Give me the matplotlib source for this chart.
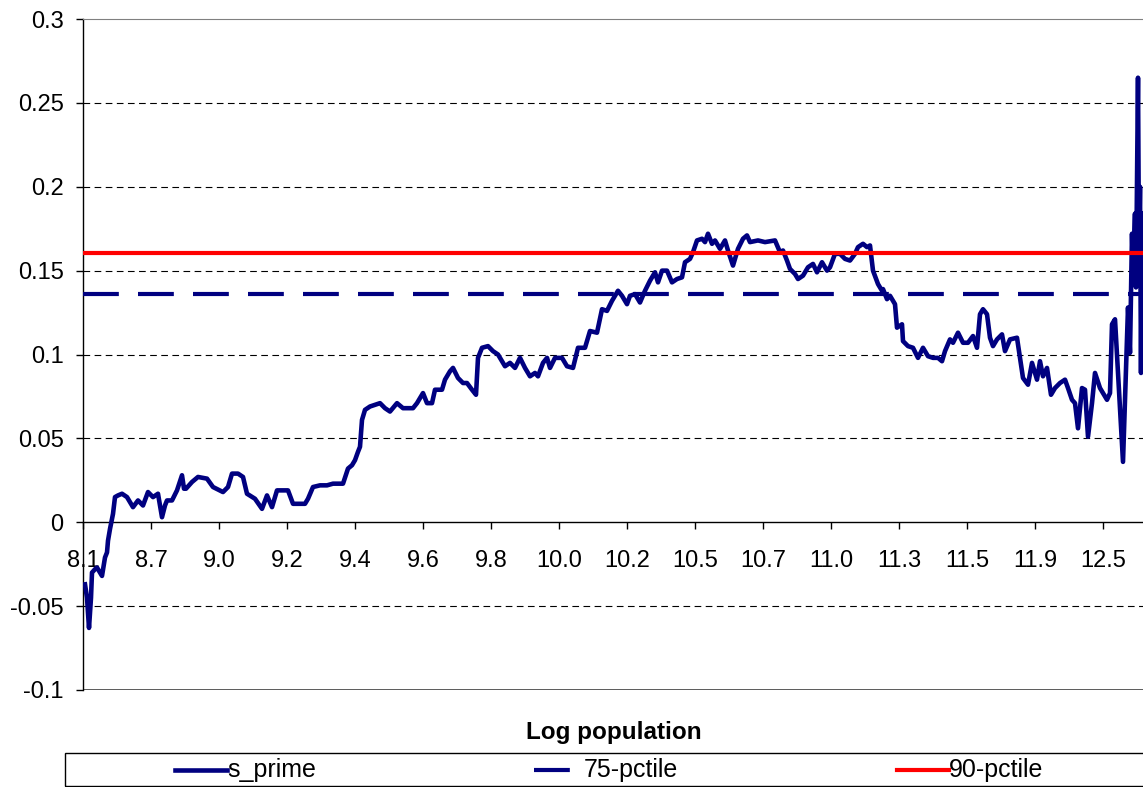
import matplotlib
matplotlib.use('Agg')
import matplotlib.pyplot as plt
from matplotlib.lines import Line2D
from matplotlib.patches import Rectangle

plt.rcParams['font.family'] = ['Liberation Sans', 'DejaVu Sans']

# category labels shown every 68 observations
tick_labels = ['8.1', '8.7', '9.0', '9.2', '9.4', '9.6', '9.8', '10.0', '10.2',
               '10.5', '10.7', '11.0', '11.3', '11.5', '11.9', '12.5']
tick_step = 68
n_obs = 1060

# observation number / s_prime value (sampled from the curve)
obs = [2, 4, 6, 8, 9, 12, 14, 17, 19, 22, 24, 25, 27, 29, 30, 32, 35, 39, 44, 50,
       55, 60, 65, 70, 75, 79, 82, 84, 89, 94, 99, 101, 103, 109, 115, 124, 130, 140,
       145, 149, 155, 160, 164, 172, 179, 184, 189, 194, 200, 205, 210, 220,
       222, 225, 230, 237, 244, 250, 260, 265, 269, 272, 275, 277, 279, 282, 287,
       297, 302, 307, 314, 320, 330, 334, 340, 344, 349, 352, 359, 362, 367, 370,
       375, 380, 384, 389, 393, 395, 399, 405, 410, 415, 422, 427, 432, 437,
       442, 447, 452, 455, 460, 464, 467, 472, 479, 484, 490, 495, 502, 507, 514,
       519, 524, 529, 535, 539, 544, 547, 552, 557, 562, 567, 572, 575, 579, 584,
       589, 594, 599, 602, 607, 610, 614, 619, 622, 625, 629, 632, 637, 642, 645,
       650, 655, 660,
       664, 667, 675, 682, 692, 697, 700, 704, 707, 712, 715, 720, 725, 730, 734,
       739, 744, 747, 752, 757, 762, 767, 772, 775, 780, 784, 787, 790, 795, 799,
       800, 804, 807, 812, 814, 819, 820, 825, 830, 835, 840, 845, 850, 855, 859,
       862, 867, 870, 875, 880, 885, 890, 894, 897, 900, 904, 907, 910, 914, 919,
       922, 927, 934, 937, 940, 945, 949, 954, 957, 960, 964, 968, 972, 977, 982,
       985, 989, 992, 995, 999, 1002, 1005, 1009, 1012, 1017, 1020, 1024, 1027,
       1029, 1032, 1035, 1040, 1042, 1045, 1047, 1049, 1050, 1052, 1053, 1055,
       1056, 1057, 1058, 1059]
s_prime = [-0.037, -0.045, -0.063, -0.045, -0.030, -0.028, -0.027, -0.030, -0.032,
           -0.021, -0.018, -0.011, -0.004, 0.002, 0.005, 0.015, 0.016, 0.017, 0.015,
           0.009, 0.013, 0.010, 0.018, 0.015, 0.017, 0.003, 0.010, 0.013, 0.013,
           0.019, 0.028, 0.020, 0.020, 0.024, 0.027, 0.026, 0.021, 0.018, 0.021,
           0.029, 0.029, 0.027, 0.017, 0.014, 0.008, 0.016, 0.009, 0.019, 0.019,
           0.019, 0.011, 0.011,
           0.011, 0.014, 0.021, 0.022, 0.022, 0.023, 0.023, 0.032, 0.034, 0.037,
           0.042, 0.045, 0.061, 0.067, 0.069, 0.071, 0.068, 0.066, 0.071, 0.068,
           0.068, 0.071, 0.077, 0.071, 0.071, 0.079, 0.079, 0.085, 0.090, 0.092,
           0.086, 0.083, 0.083, 0.079, 0.076, 0.098, 0.104, 0.105, 0.102, 0.100,
           0.093, 0.095, 0.092, 0.098, 0.092, 0.087, 0.089, 0.087, 0.095, 0.098,
           0.092, 0.098, 0.098, 0.093, 0.092, 0.104, 0.104, 0.114, 0.113, 0.127,
           0.126, 0.132, 0.138, 0.135, 0.130, 0.135, 0.136, 0.131, 0.138, 0.144,
           0.149, 0.143, 0.150, 0.150, 0.143, 0.145, 0.146, 0.155, 0.157, 0.161,
           0.168, 0.169, 0.167, 0.172, 0.166, 0.168, 0.163, 0.168, 0.162, 0.153,
           0.163, 0.169,
           0.171, 0.167, 0.168, 0.167, 0.168, 0.161, 0.162, 0.156, 0.151, 0.148,
           0.145, 0.147, 0.152, 0.154, 0.149, 0.155, 0.150, 0.152, 0.160, 0.160,
           0.157, 0.156, 0.160, 0.164, 0.166, 0.164, 0.165, 0.150, 0.142, 0.138,
           0.139, 0.133, 0.135, 0.130, 0.116, 0.118, 0.108, 0.105, 0.104, 0.098,
           0.104, 0.099, 0.098, 0.098, 0.096, 0.102, 0.109, 0.107, 0.113, 0.107,
           0.107, 0.111, 0.104, 0.124, 0.127, 0.124, 0.110, 0.105, 0.109, 0.112,
           0.102, 0.109, 0.110, 0.098, 0.086, 0.082, 0.095, 0.085, 0.096, 0.087,
           0.092, 0.076, 0.080, 0.083, 0.085, 0.080, 0.073, 0.071, 0.056, 0.080,
           0.079, 0.051, 0.071, 0.089, 0.080, 0.077, 0.073, 0.077, 0.118, 0.121,
           0.089, 0.036, 0.073, 0.128, 0.101, 0.172, 0.150, 0.184, 0.140, 0.265,
           0.160, 0.200, 0.089, 0.184]

pctile_75 = 0.136
pctile_90 = 0.1605

y_ticks = [-0.1, -0.05, 0, 0.05, 0.1, 0.15, 0.2, 0.25, 0.3]
y_labels = ['-0.1', '-0.05', '0', '0.05', '0.1', '0.15', '0.2', '0.25', '0.3']

navy = '#000080'
fs = 17

fig = plt.figure(figsize=(11.43, 7.87), dpi=100)
ax = fig.add_axes([83 / 1143, 97 / 787, 1060 / 1143, 671 / 787])

ax.plot(obs, s_prime, color=navy, lw=3.3, solid_joinstyle='round', zorder=3)
ax.axhline(pctile_75, color=navy, lw=3, dashes=(8.6, 4.6), zorder=4)
ax.axhline(pctile_90, color='#ff0000', lw=3, zorder=5)

ax.set_xlim(0, n_obs)
ax.set_ylim(-0.1, 0.3)

# axis crosses at y=0 (set before tick labels, it resets the ticks)
ax.spines['bottom'].set_position(('data', 0))
ax.spines['bottom'].set_linewidth(1)
ax.spines['left'].set_linewidth(1)
ax.spines['right'].set_visible(False)
ax.spines['top'].set_color('#808080')

ax.set_xticks(range(0, len(tick_labels) * tick_step, tick_step))
ax.set_xticklabels(tick_labels)
ax.set_yticks(y_ticks)
ax.set_yticklabels(y_labels)
ax.tick_params(axis='x', direction='out', length=5, width=1, pad=15, labelsize=fs)
ax.tick_params(axis='y', direction='out', length=5, width=1, pad=9, labelsize=fs)

# dashed gridlines
for v in y_ticks[1:-1]:
    if v != 0:
        ax.axhline(v, color='black', lw=0.8, dashes=(6, 4), zorder=1)
ax.axhline(-0.1, color='#404040', lw=1.2, zorder=1)

fig.text(614 / 1143, 1 - 732 / 787, 'Log population', ha='center', va='center',
         fontsize=17.5, fontweight='bold')

# legend box along the bottom
fig.add_artist(Rectangle((65 / 1143, 1 / 787), 1100 / 1143, 33 / 787,
                         transform=fig.transFigure, fill=False, ec='black', lw=1))
ly = 1 - 770 / 787
lfs = 18
fig.add_artist(Line2D([175 / 1143, 227 / 1143], [ly, ly], transform=fig.transFigure,
                      color=navy, lw=3.3))
fig.text(227 / 1143, ly, 's_prime', ha='left', va='center', fontsize=lfs)
fig.add_artist(Line2D([534 / 1143, 580 / 1143], [ly, ly], transform=fig.transFigure,
                      color=navy, lw=3, dashes=(8.6, 4.6)))
fig.text(584 / 1143, ly, '75-pctile', ha='left', va='center', fontsize=lfs)
fig.add_artist(Line2D([897 / 1143, 949 / 1143], [ly, ly], transform=fig.transFigure,
                      color='#ff0000', lw=3))
fig.text(949 / 1143, ly, '90-pctile', ha='left', va='center', fontsize=lfs)

fig.savefig('out.png', dpi=100)
